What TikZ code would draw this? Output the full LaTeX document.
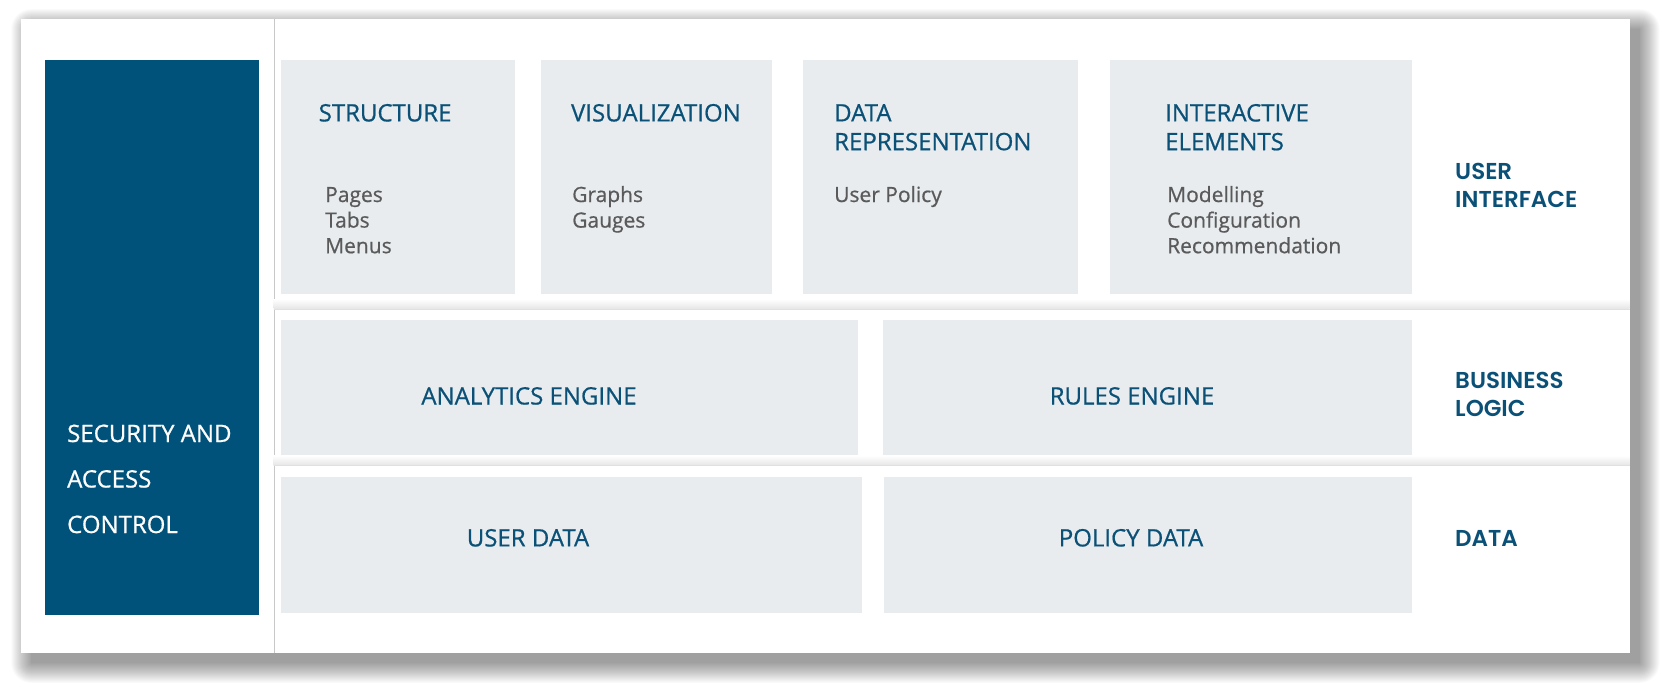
\documentclass[tikz,border=0pt]{standalone}
\usepackage{fontspec}
\setmainfont{Open Sans}[FakeBold=0.7]
\newfontfamily\sidefont{Poppins}[BoldFont={Poppins SemiBold}]
\usepackage{xcolor}
\usepackage{tikz}
\usetikzlibrary{positioning}

\definecolor{secblue}{HTML}{00527A}
\definecolor{headblue}{HTML}{0B5177}
\definecolor{boxgray}{HTML}{E8ECEF}
\definecolor{itemgray}{HTML}{5A5A5A}
\definecolor{linegray}{HTML}{C8C8C8}

\begin{document}
\begin{tikzpicture}[x=1pt, y=-1pt,
        box/.style={fill=boxgray, inner sep=0pt, anchor=north west},
        head/.style={anchor=base west, inner sep=0pt, text=headblue, align=left,
            font=\fontsize{24}{28.8}\selectfont},
        item/.style={anchor=base west, inner sep=0pt, text=itemgray, align=left,
            font=\fontsize{21}{25.6}\selectfont},
        mid/.style={anchor=base, inner sep=0pt, text=headblue,
            font=\fontsize{24}{28.8}\selectfont},
        side/.style={anchor=base west, inner sep=0pt, text=headblue, align=left,
            font=\sidefont\bfseries\fontsize{23}{28.8}\selectfont}]
        \useasboundingbox[fill=white] (0,0) rectangle (1670,693);

        % panel with its shadow
        \foreach \i in {0,...,20}
            \fill[black, opacity=0.02, rounded corners=\i pt] (31.3-\i, 29.2-\i) rectangle (1639.6+\i, 662.9+\i);
        \fill[white] (21.3,19.2) rectangle (1629.6,652.9);
        \draw[linegray, thin] (273.7,19.2) -- (273.7,652.9);

        % layer separators
        \shade[top color=white, bottom color=black!10] (273.7,299) rectangle (1629.6,308.9);
        \draw[black!12] (273.7,308.9) -- (1629.6,308.9);
        \shade[top color=white, bottom color=black!10] (273.7,455.5) rectangle (1629.6,465.4);
        \draw[black!12] (273.7,465.4) -- (1629.6,465.4);

        % security column
        \node[box, fill=secblue, minimum width=214.1pt, minimum height=555pt] (sec) at (44.7,59.6) {};
        \node[anchor=base west, inner sep=0pt, text=white, font=\fontsize{24}{28.8}\selectfont] (sec1) at (67,442) {SECURITY AND};
        \node[anchor=base west, inner sep=0pt, text=white, font=\fontsize{24}{28.8}\selectfont] (sec2) at (67,487.5) {ACCESS};
        \node[anchor=base west, inner sep=0pt, text=white, font=\fontsize{24}{28.8}\selectfont] (sec3) at (67,533) {CONTROL};

        % user interface (base = last line)
        \node[box, minimum width=233.2pt, minimum height=234.4pt] (struct) at (281.2,59.6) {};
        \node[box, minimum width=231.1pt, minimum height=234.4pt] (visual) at (541.1,59.6) {};
        \node[box, minimum width=274.8pt, minimum height=234.4pt] (datarep) at (803.1,59.6) {};
        \node[box, minimum width=301.5pt, minimum height=234.4pt] (interact) at (1109.8,59.6) {};

        \node[head] (structhead) at (318.5,121.4) {STRUCTURE};
        \node[item] (structitems) at (325,253.2) {Pages\\Tabs\\Menus};
        \node[head] (visualhead) at (570.9,121.4) {VISUALIZATION};
        \node[item] (visualitems) at (572,227.6) {Graphs\\Gauges};
        \node[head] (datarephead) at (834,150.2) {DATA\\REPRESENTATION};
        \node[item] (datarepitems) at (834,202) {User Policy};
        \node[head] (interacthead) at (1165,150.2) {INTERACTIVE\\ELEMENTS};
        \node[item] (interactitems) at (1167,253.2) {Modelling\\Configuration\\Recommendation};

        % business logic
        \node[box, minimum width=576.2pt, minimum height=135.3pt] (analytics) at (281.2,319.5) {};
        \node[box, minimum width=528.3pt, minimum height=135.3pt] (rules) at (883,319.5) {};
        \node[mid] (analyticstext) at (529,404.5) {ANALYTICS ENGINE};
        \node[mid] (rulestext) at (1132,404.5) {RULES ENGINE};

        % data
        \node[box, minimum width=580.5pt, minimum height=135.2pt] (userdata) at (281.2,477.2) {};
        \node[box, minimum width=527.3pt, minimum height=135.2pt] (policydata) at (884,477.2) {};
        \node[mid] (userdatatext) at (528,546.4) {USER DATA};
        \node[mid] (policydatatext) at (1131,546.4) {POLICY DATA};

        % layer names
        \node[side] (uilabel) at (1455,207.8) {USER\\INTERFACE};
        \node[side] (bllabel) at (1455,416.8) {BUSINESS\\LOGIC};
        \node[side] (datalabel) at (1455,546) {DATA};
    \end{tikzpicture}
\end{document}
